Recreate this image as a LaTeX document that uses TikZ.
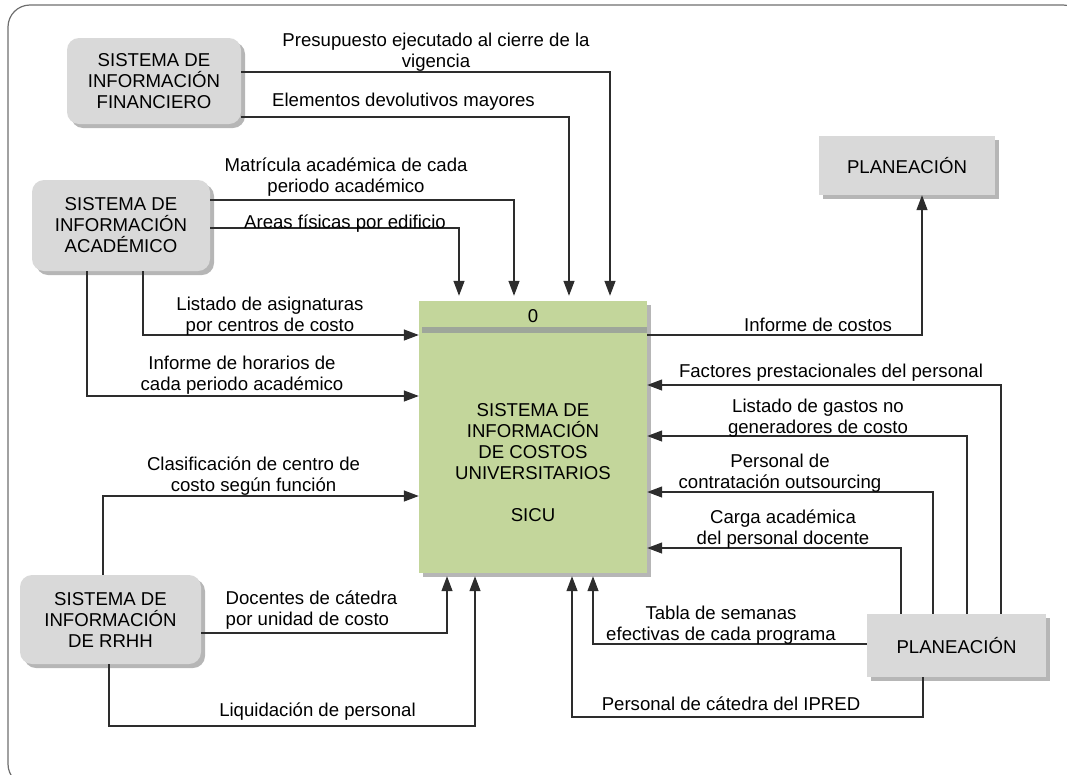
\documentclass[tikz,border=0pt]{standalone}
\usepackage{fontspec}
\setmainfont{Liberation Sans}
\usetikzlibrary{arrows.meta,shadows}
\definecolor{boxgray}{RGB}{217,217,217}
\definecolor{sicugreen}{RGB}{195,214,155}
\definecolor{shadowgray}{RGB}{182,182,182}
\definecolor{bandgray}{RGB}{158,166,154}
\definecolor{linegray}{RGB}{45,45,45}
\definecolor{framegray}{RGB}{110,110,110}
\begin{document}
\begin{tikzpicture}[x=1pt,y=-1pt,
  font=\fontsize{18.6}{21}\selectfont,
  ln/.style={draw=linegray, line width=1.3pt},
  arr/.style={ln, -{Triangle[length=15pt,width=11pt]}},
  shad/.style={drop shadow={shadow xshift=4pt, shadow yshift=-4pt, fill=shadowgray, opacity=1}},
  extent/.style={fill=boxgray, rounded corners=12pt, align=center, inner sep=0pt, shad},
  planbox/.style={fill=boxgray, align=center, inner sep=0pt, shad},
  lbl/.style={align=center, inner sep=0pt}
]
\useasboundingbox (0,0) rectangle (1067,774);
\begin{scope}
\clip (0,0) rectangle (1067,774);
\draw[framegray, line width=1.2pt, rounded corners=22pt] (8,5) rectangle (1085,786);
\end{scope}

% external entities
\node[extent, minimum width=174pt, minimum height=86pt] (fin) at (154,81) {SISTEMA DE\\INFORMACIÓN\\FINANCIERO};
\node[extent, minimum width=178pt, minimum height=91pt] (aca) at (121,225.5) {SISTEMA DE\\INFORMACIÓN\\ACADÉMICO};
\node[extent, minimum width=181pt, minimum height=89pt] (rrhh) at (110.5,619.5) {SISTEMA DE\\INFORMACIÓN\\DE RRHH};
\node[planbox, minimum width=176pt, minimum height=59pt] (plan1) at (907,165.5) {PLANEACIÓN};
\node[planbox, minimum width=179pt, minimum height=63pt] (plan2) at (956.5,645.5) {PLANEACIÓN};

% process
\node[fill=sicugreen, minimum width=228pt, minimum height=272pt, inner sep=0pt, shad] (sicu) at (533,437) {};
\fill[bandgray] (422,327) rectangle (647,333);
\node[lbl] (sicuh) at (533,316) {0};
\node[lbl] (sicut) at (533,463) {SISTEMA DE\\INFORMACIÓN\\DE COSTOS\\UNIVERSITARIOS\\[21pt]SICU};

% inputs from top
\draw[arr, shorten >=5pt] (fin.east |- 0,72) -| (sicu.north -| 610,0);
\draw[arr, shorten >=5pt] (fin.east |- 0,117) -| (sicu.north -| 569,0);
\draw[arr, shorten >=5pt] (aca.east |- 0,200) -| (sicu.north -| 514,0);
\draw[arr, shorten >=5pt] (aca.east |- 0,228) -| (sicu.north -| 459,0);

% inputs from left
\draw[arr] (aca.south -| 143,0) |- (sicu.west |- 0,335);
\draw[arr] (aca.south -| 87,0) |- (sicu.west |- 0,396);
\draw[arr] (rrhh.north -| 103,0) |- (sicu.west |- 0,496);

% inputs from bottom
\draw[arr, shorten >=3pt] (rrhh.east |- 0,633) -| (sicu.south -| 447,0);
\draw[arr, shorten >=3pt] (rrhh.south -| 109,0) |- (475,726) -- (sicu.south -| 475,0);
\draw[arr, shorten >=3pt] (plan2.west |- 0,644) -| (sicu.south -| 593,0);
\draw[arr, shorten >=3pt] (plan2.south -| 923,0) |- (572,717) -- (sicu.south -| 572,0);

% inputs from right
\draw[arr] (plan2.north -| 1001,0) |- (sicu.east |- 0,385);
\draw[arr] (plan2.north -| 967,0) |- (sicu.east |- 0,436);
\draw[arr] (plan2.north -| 933,0) |- (sicu.east |- 0,492);
\draw[arr] (plan2.north -| 901,0) |- (sicu.east |- 0,548);

% output
\draw[arr] (sicu.east |- 0,335) -| (plan1.south -| 922,0);

% labels
\node[lbl] (l1) at (436,52) {Presupuesto ejecutado al cierre de la\\vigencia};
\node[lbl] (l2) at (403.5,102) {Elementos devolutivos mayores};
\node[lbl] (l3) at (346,177) {Matrícula académica de cada\\periodo académico};
\node[lbl] (l4) at (345,224) {Areas físicas por edificio};
\node[lbl] (l5) at (270,316) {Listado de asignaturas\\por centros de costo};
\node[lbl] (l6) at (242,375) {Informe de horarios de\\cada periodo académico};
\node[lbl] (l7) at (253.5,476) {Clasificación de centro de\\costo según función};
\node[lbl, align=left] (l8) at (311.5,610) {Docentes de cátedra\\por unidad de costo};
\node[lbl] (l9) at (317.5,712) {Liquidación de personal};
\node[lbl] (l10) at (818,325) {Informe de costos};
\node[lbl] (l11) at (831,373) {Factores prestacionales del personal};
\node[lbl] (l12) at (818,418) {Listado de gastos no\\generadores de costo};
\node[lbl] (l13) at (780,473) {Personal de\\contratación outsourcing};
\node[lbl] (l14) at (783,529) {Carga académica\\del personal docente};
\node[lbl] (l15) at (721,625) {Tabla de semanas\\efectivas de cada programa};
\node[lbl] (l16) at (731,704) {Personal de cátedra del IPRED};
\end{tikzpicture}
\end{document}
